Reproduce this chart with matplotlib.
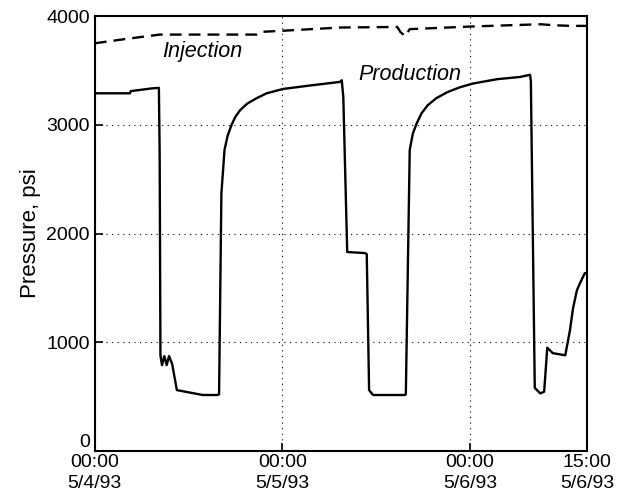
import matplotlib
matplotlib.use('Agg')
import matplotlib.pyplot as plt

# hours since 5/4/93 00:00
prod_hours = [0.0, 4.5, 4.6, 7.3, 8.2, 8.3, 8.4, 8.6, 8.9, 9.2, 9.5, 9.9, 10.5, 13.8,
              15.7, 15.9, 16.2, 16.6, 17.0, 17.5, 18.0, 18.6, 19.5, 20.7, 22.0, 24.1,
              27.9, 31.4, 31.6, 31.8, 32.3, 34.6, 34.8, 35.1, 35.6, 39.7, 39.8, 40.3,
              40.7, 41.2, 41.8, 42.6, 43.7, 45.1, 46.7, 48.4, 51.5, 54.4, 55.7, 55.8,
              56.3, 57.0, 57.5, 57.9, 58.6, 60.2, 60.8, 61.2, 61.7, 62.1, 62.7, 63.0]
prod_psi = [3290, 3290, 3310, 3335, 3340, 2740, 880, 790, 873, 790, 873, 800, 560, 515,
            515, 520, 2370, 2770, 2900, 3000, 3075, 3135, 3195, 3245, 3290, 3330,
            3365, 3395, 3410, 3255, 1830, 1820, 1810, 560, 515, 515, 520, 2770,
            2920, 3015, 3105, 3180, 3245, 3300, 3345, 3380, 3420, 3440, 3460, 3400,
            580, 530, 545, 950, 900, 880, 1110, 1315, 1480, 1545, 1635, 1640]

inj_hours = [0.0, 4.0, 8.3, 20.7, 21.3, 24.0, 31.4, 38.7, 39.1, 39.7, 40.3, 48.4,
             57.0, 59.0, 61.0, 63.0]
inj_psi = [3750, 3790, 3830, 3830, 3855, 3865, 3895, 3900, 3855, 3815, 3880, 3905,
           3925, 3915, 3910, 3910]

x_ticks = [0, 24, 48, 63]
x_tick_labels = ['00:00\n5/4/93', '00:00\n5/5/93', '00:00\n5/6/93', '15:00\n5/6/93']
y_ticks = [0, 1000, 2000, 3000, 4000]


def main():
    plt.rcParams['font.family'] = ['Liberation Sans', 'DejaVu Sans']

    fig = plt.figure(figsize=(6.32, 4.97), dpi=100)
    ax = fig.add_axes([0.150, 0.0926, 0.779, 0.875])

    ax.plot(prod_hours, prod_psi, color='black', linewidth=1.7)
    ax.plot(inj_hours, inj_psi, color='black', linewidth=1.7, linestyle=(0, (5, 3)))

    ax.text(13.7, 3670, 'Injection', fontsize=15.5, style='italic', ha='center', va='center')
    ax.text(40.3, 3460, 'Production', fontsize=15.5, style='italic', ha='center', va='center')

    ax.set_xlim(0, 63)
    ax.set_ylim(0, 4000)
    ax.set_xticks(x_ticks)
    ax.set_xticklabels(x_tick_labels, linespacing=1.35)
    ax.set_yticks(y_ticks)
    ax.tick_params(direction='in', length=6, width=1.2, labelsize=14)
    ax.tick_params(axis='x', pad=2)
    # "0" sits a little above the axis so it clears the first date label
    ax.get_yticklabels()[0].set_verticalalignment('bottom')
    ax.set_ylabel('Pressure, psi', fontsize=16, labelpad=4)
    ax.grid(True, color='black', linestyle=(0, (1, 4)), linewidth=0.8)
    for s in ax.spines.values():
        s.set_linewidth(1.5)

    fig.savefig('out.png', dpi=100)
    plt.close(fig)


if __name__ == '__main__':
    main()
